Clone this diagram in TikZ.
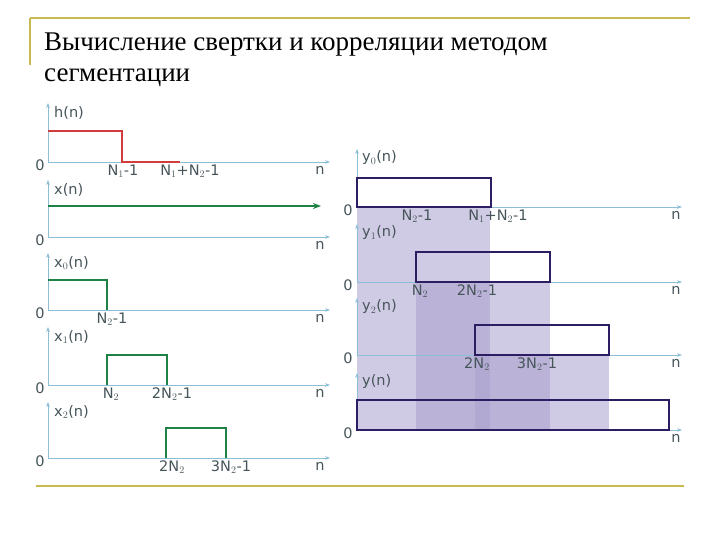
\documentclass[tikz,border=0pt]{standalone}
\usepackage{fontspec}
\setmainfont{Liberation Serif}
\newfontfamily\lbl{DejaVu Sans}
\usetikzlibrary{arrows.meta}
\begin{document}
\begin{tikzpicture}[x=1pt,y=-1pt,
  ax/.style={draw=axc,line width=0.8pt,-{Stealth[length=5pt]}},
  lab/.style={font=\lbl\fontsize{14.5}{16}\selectfont,text=txc,inner sep=0pt},
  sig/.style={draw=grn,line width=1.8pt},
  box/.style={draw=pur,line width=2pt},
  shade/.style={fill=lav,fill opacity=0.55,draw=none}]
\definecolor{axc}{RGB}{140,190,215}
\definecolor{txc}{RGB}{70,85,90}
\definecolor{grn}{RGB}{30,130,70}
\definecolor{redc}{RGB}{210,60,60}
\definecolor{pur}{RGB}{45,30,100}
\definecolor{lav}{RGB}{170,160,205}
\definecolor{gold}{RGB}{200,185,80}
\useasboundingbox (0,0) rectangle (720,540);
% frame
\draw[gold,line width=1.2pt] (30,18) -- (690,18);
\draw[gold,line width=1.2pt] (30,18) -- (30,65);
\draw[gold,line width=1.2pt] (36,486) -- (684,486);
\node[anchor=west,inner sep=0pt,font=\fontsize{27}{30}\selectfont] (t1) at (44,45) {Вычисление свертки и корреляции методом};
\node[anchor=west,inner sep=0pt,font=\fontsize{27}{30}\selectfont] (t2) at (44,78) {сегментации};
% left panel
\foreach \b/\top/\nm in {162/103/h(n),237/180/x(n),310/253/x$_0$(n),385/327/x$_1$(n),458/402/x$_2$(n)}{
  \draw[ax] (48,\b) -- (330,\b);
  \draw[ax] (48,\b) -- (48,\top);
  \node[lab,anchor=west] at (54,\top+10) {\nm};
  \node[lab] at (40,\b+3) {0};
  \node[lab] at (320,\b+8) {n};
}
\draw[redc,line width=1.8pt] (48,131) -- (122,131) -- (122,162) -- (180,162);
\node[lab] at (123,171) {N$_1$-1};
\node[lab] at (190,171) {N$_1$+N$_2$-1};
\draw[grn,line width=1.8pt,-{Stealth[length=8pt]}] (48,206) -- (321,206);
\draw[sig] (48,280) -- (107,280) -- (107,310);
\node[lab] at (112,319) {N$_2$-1};
\draw[sig] (107,385) -- (107,355) -- (167,355) -- (167,385);
\node[lab] at (111,394) {N$_2$};
\node[lab] at (172,394) {2N$_2$-1};
\draw[sig] (166,458) -- (166,428) -- (226,428) -- (226,458);
\node[lab] at (172,467) {2N$_2$};
\node[lab] at (231,467) {3N$_2$-1};
% right panel shading
\fill[shade] (357,207) rectangle (490,430);
\fill[shade] (416,282) rectangle (550,430);
\fill[shade] (475,355) rectangle (609,430);
\foreach \b/\top/\nm in {207/149/y$_0$(n),282/224/y$_1$(n),355/298/y$_2$(n),430/373/y(n)}{
  \draw[ax] (357,\b) -- (682,\b);
  \draw[ax] (357,\b) -- (357,\top);
  \node[lab,anchor=west] at (362,\top+9) {\nm};
  \node[lab] at (348,\b+3) {0};
  \node[lab] at (676,\b+8) {n};
}
\draw[box] (357,178) rectangle (491,207);
\draw[box] (416,252) rectangle (550,282);
\draw[box] (475,325) rectangle (609,355);
\draw[box] (357,400) rectangle (669,430);
\node[lab] at (417,216) {N$_2$-1};
\node[lab] at (498,216) {N$_1$+N$_2$-1};
\node[lab] at (420,291) {N$_2$};
\node[lab] at (477,291) {2N$_2$-1};
\node[lab] at (477,364) {2N$_2$};
\node[lab] at (537,364) {3N$_2$-1};
\end{tikzpicture}
\end{document}
